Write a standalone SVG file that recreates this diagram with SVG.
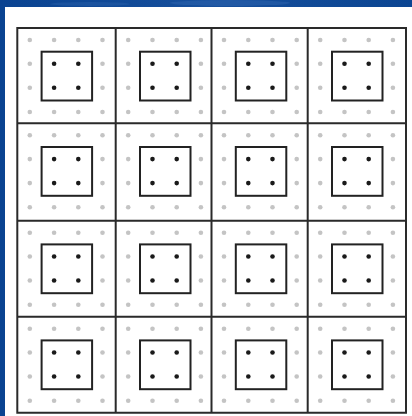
<svg xmlns="http://www.w3.org/2000/svg" width="412" height="416" viewBox="0 0 412 416">
<defs>
<style>
.g{fill:#c4c4c4}
.b{fill:#1a1a1a}
.sq{fill:none;stroke:#222;stroke-width:2}
.ln{stroke:#2a2a2a;stroke-width:2;fill:none}
</style>
<linearGradient id="bg" x1="0" y1="0" x2="1" y2="0">
<stop offset="0" stop-color="#0a4391"/>
<stop offset="0.5" stop-color="#164f9c"/>
<stop offset="1" stop-color="#0b4592"/>
</linearGradient>
<g id="cell">
<circle class="g" cx="12.5" cy="12" r="2.3"/><circle class="g" cx="36.8" cy="12" r="2.3"/><circle class="g" cx="61" cy="12" r="2.3"/><circle class="g" cx="85.2" cy="12" r="2.3"/>
<circle class="g" cx="12.5" cy="35.8" r="2.3"/><circle class="b" cx="36.8" cy="35.8" r="2.3"/><circle class="b" cx="61" cy="35.8" r="2.3"/><circle class="g" cx="85.2" cy="35.8" r="2.3"/>
<circle class="g" cx="12.5" cy="59.8" r="2.3"/><circle class="b" cx="36.8" cy="59.8" r="2.3"/><circle class="b" cx="61" cy="59.8" r="2.3"/><circle class="g" cx="85.2" cy="59.8" r="2.3"/>
<circle class="g" cx="12.5" cy="84" r="2.3"/><circle class="g" cx="36.8" cy="84" r="2.3"/><circle class="g" cx="61" cy="84" r="2.3"/><circle class="g" cx="85.2" cy="84" r="2.3"/>
<rect class="sq" x="24.3" y="23.7" width="50.5" height="48.8"/>
</g>
</defs>
<rect width="412" height="416" fill="url(#bg)"/>
<ellipse cx="230" cy="3" rx="60" ry="3" fill="#2d64ad" opacity="0.5"/>
<ellipse cx="90" cy="4" rx="40" ry="2" fill="#2d64ad" opacity="0.4"/>
<rect x="5" y="7" width="407" height="409" fill="#fff"/>
<g id="cells">
<g id="c11"><use href="#cell" x="17.3" y="28"/></g>
<g id="c12"><use href="#cell" x="115.7" y="28"/></g>
<g id="c13"><use href="#cell" x="211.5" y="28"/></g>
<g id="c14"><use href="#cell" x="307.7" y="28"/></g>
<g id="c21"><use href="#cell" x="17.3" y="123.3"/></g>
<g id="c22"><use href="#cell" x="115.7" y="123.3"/></g>
<g id="c23"><use href="#cell" x="211.5" y="123.3"/></g>
<g id="c24"><use href="#cell" x="307.7" y="123.3"/></g>
<g id="c31"><use href="#cell" x="17.3" y="220.7"/></g>
<g id="c32"><use href="#cell" x="115.7" y="220.7"/></g>
<g id="c33"><use href="#cell" x="211.5" y="220.7"/></g>
<g id="c34"><use href="#cell" x="307.7" y="220.7"/></g>
<g id="c41"><use href="#cell" x="17.3" y="316.7"/></g>
<g id="c42"><use href="#cell" x="115.7" y="316.7"/></g>
<g id="c43"><use href="#cell" x="211.5" y="316.7"/></g>
<g id="c44"><use href="#cell" x="307.7" y="316.7"/></g>
</g>
<g id="gridlines">
<path class="ln" d="M17.3 28H406V412.7H17.3Z"/>
<path class="ln" d="M115.7 28V412.7M211.5 28V412.7M307.7 28V412.7"/>
<path class="ln" d="M17.3 123.3H406M17.3 220.7H406M17.3 316.7H406"/>
</g>
</svg>
